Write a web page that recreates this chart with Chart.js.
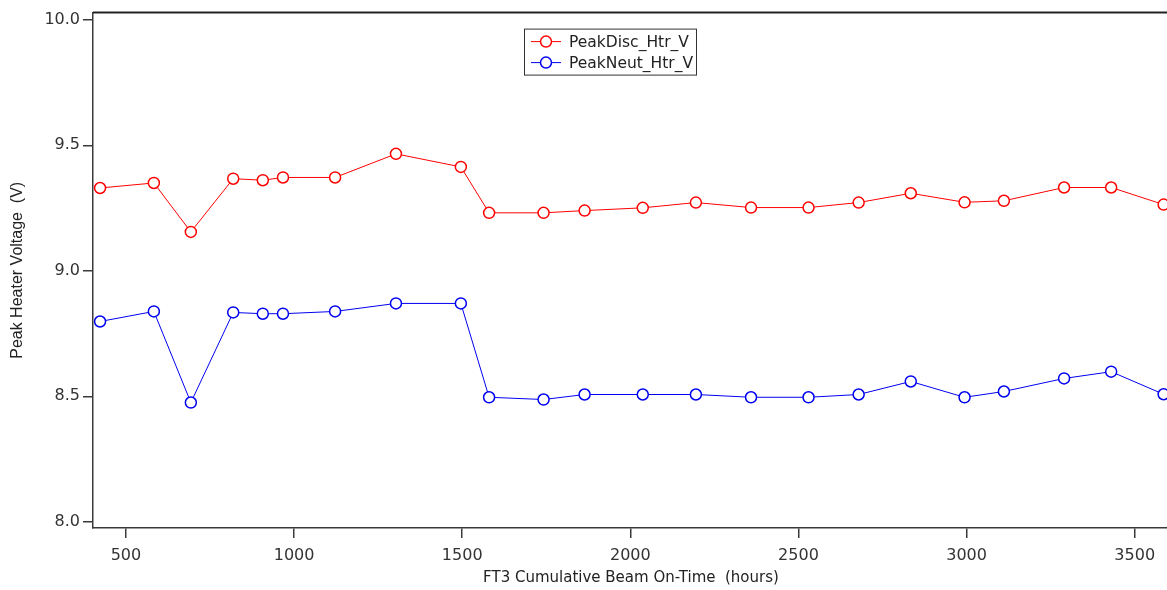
<!DOCTYPE html>
<html>
<head>
<meta charset="utf-8">
<script src="https://cdn.jsdelivr.net/npm/chart.js@4"></script>
<style>
  html, body { margin: 0; padding: 0; background: #fff; overflow: hidden; }
  #wrap { width: 1176px; height: 590px; }
</style>
</head>
<body>
<div id="wrap"><canvas id="heaterChart"></canvas></div>
<script>
// Beam on-time (hours) for each measurement
const beamHours = [423, 583, 693, 819, 907, 967, 1122, 1303, 1496, 1580, 1742, 1864,
                   2037, 2195, 2359, 2530, 2679, 2834, 2994, 3111, 3290, 3430, 3586];

// Peak heater voltages (V)
const peakDisc = [9.33, 9.35, 9.155, 9.367, 9.361, 9.372, 9.372, 9.466, 9.414, 9.231, 9.231, 9.240,
                  9.251, 9.272, 9.252, 9.252, 9.272, 9.309, 9.273, 9.279, 9.332, 9.332, 9.264];
const peakNeut = [8.798, 8.838, 8.475, 8.834, 8.829, 8.829, 8.838, 8.870, 8.870, 8.496, 8.487, 8.507,
                  8.507, 8.507, 8.496, 8.496, 8.507, 8.559, 8.496, 8.519, 8.571, 8.598, 8.508];

// Tick marks
const xTicks = [500, 1000, 1500, 2000, 2500, 3000, 3500];
const yTicks = [8.0, 8.5, 9.0, 9.5, 10.0];

const seriesNames = ['PeakDisc_Htr_V', 'PeakNeut_Htr_V'];
const xTitle = 'FT3 Cumulative Beam On-Time  (hours)';
const yTitle = 'Peak Heater Voltage  (V)';

const axisColor = '#3a3a3a';
const tickFont = { family: 'DejaVu Sans', size: 16 };

function toPoints(xs, ys) {
    return xs.map((x, i) => ({ x: x, y: ys[i] }));
}

function makeDataset(label, values, color) {
    return {
        label: label,
        data: toPoints(beamHours, values),
        borderColor: color,
        backgroundColor: '#ffffff',
        borderWidth: 1,
        pointRadius: 5.5,
        pointBorderWidth: 1.5,
        pointBackgroundColor: '#ffffff',
        pointBorderColor: color,
        pointHoverRadius: 5.5,
        tension: 0
    };
}

// Top frame line (Igor-style box on top)
const topFrame = {
    id: 'topFrame',
    afterDraw(chart) {
        const a = chart.chartArea;
        const ctx = chart.ctx;
        ctx.save();
        ctx.strokeStyle = '#222';
        ctx.lineWidth = 2;
        ctx.beginPath();
        ctx.moveTo(a.left, a.top);
        ctx.lineTo(a.right, a.top);
        ctx.stroke();
        ctx.restore();
    }
};

// Boxed legend inside the plot
const boxLegend = {
    id: 'boxLegend',
    afterDraw(chart) {
        const a = chart.chartArea;
        const ctx = chart.ctx;
        const bx = a.left + 431, by = a.top + 16, bw = 172, bh = 46;
        ctx.save();
        ctx.fillStyle = '#fff';
        ctx.fillRect(bx, by, bw, bh);
        ctx.strokeStyle = '#333';
        ctx.lineWidth = 1;
        ctx.strokeRect(bx + 0.5, by + 0.5, bw, bh);
        ctx.font = '15.5px "DejaVu Sans"';
        ctx.textBaseline = 'middle';
        chart.data.datasets.forEach((ds, i) => {
            const cy = by + 13 + i * 21;
            ctx.strokeStyle = ds.borderColor;
            ctx.lineWidth = 1;
            ctx.beginPath();
            ctx.moveTo(bx + 7, cy);
            ctx.lineTo(bx + 37, cy);
            ctx.stroke();
            ctx.beginPath();
            ctx.arc(bx + 22, cy, 5.5, 0, Math.PI * 2);
            ctx.fillStyle = '#fff';
            ctx.fill();
            ctx.lineWidth = 1.5;
            ctx.stroke();
            ctx.fillStyle = '#222';
            ctx.fillText(ds.label, bx + 45, cy + 1);
        });
        ctx.restore();
    }
};

const ctx = document.getElementById('heaterChart').getContext('2d');
new Chart(ctx, {
    type: 'line',
    data: {
        datasets: [
            makeDataset(seriesNames[0], peakDisc, '#ff0000'),
            makeDataset(seriesNames[1], peakNeut, '#0000f0')
        ]
    },
    options: {
        responsive: true,
        maintainAspectRatio: false,
        animation: false,
        events: [],
        layout: { padding: { top: 11, right: 3, left: 0, bottom: 0 } },
        plugins: {
            legend: { display: false },
            tooltip: { enabled: false }
        },
        scales: {
            x: {
                type: 'linear',
                min: 402,
                max: 3602,
                afterFit: s => { s.height = 62; },
                afterBuildTicks: s => { s.ticks = xTicks.map(v => ({ value: v })); },
                border: { display: true, color: axisColor, width: 1.5 },
                grid: { display: true, drawOnChartArea: false, drawTicks: true, tickLength: 10, color: axisColor, lineWidth: 1.5 },
                ticks: {
                    maxRotation: 0,
                    autoSkip: false,
                    padding: 8,
                    color: '#333',
                    font: tickFont,
                    callback: v => String(v)
                },
                title: {
                    display: true,
                    text: xTitle,
                    color: '#222',
                    font: { family: 'DejaVu Sans', size: 15 },
                    padding: { top: 0, bottom: 3 }
                }
            },
            y: {
                type: 'linear',
                min: 7.975,
                max: 10.029,
                afterFit: s => { s.width = 93; },
                afterBuildTicks: s => { s.ticks = yTicks.map(v => ({ value: v })); },
                border: { display: true, color: axisColor, width: 1.5 },
                grid: { display: true, drawOnChartArea: false, drawTicks: true, tickLength: 10, color: axisColor, lineWidth: 1.5 },
                ticks: {
                    autoSkip: false,
                    padding: 3,
                    color: '#333',
                    font: tickFont,
                    callback: v => v.toFixed(1)
                },
                title: {
                    display: true,
                    text: yTitle,
                    color: '#222',
                    font: { family: 'Liberation Sans', size: 16 },
                    padding: { top: 8, bottom: 0 }
                }
            }
        }
    },
    plugins: [topFrame, boxLegend]
});
</script>
</body>
</html>
